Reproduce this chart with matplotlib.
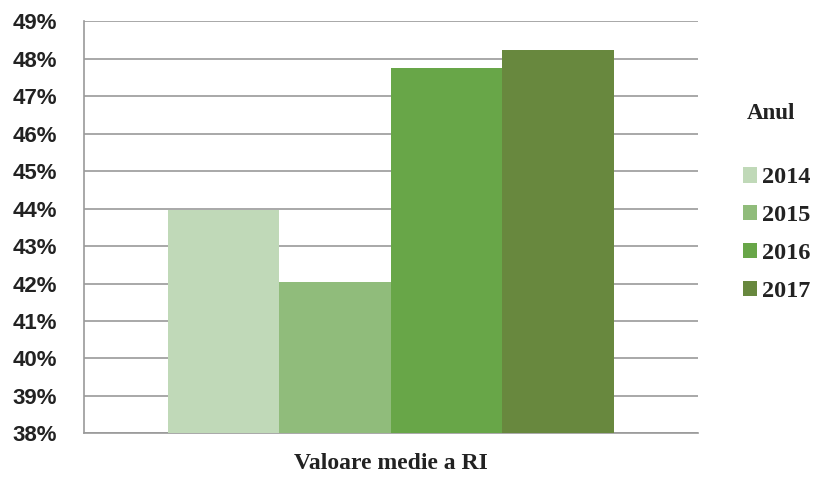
import matplotlib
matplotlib.use('Agg')
import matplotlib.pyplot as plt
from matplotlib.patches import Patch
from matplotlib.ticker import FuncFormatter

# data
years = ['2014', '2015', '2016', '2017']
values = [43.97, 42.05, 47.75, 48.22]
colors = ['#c0d9b8', '#90bc7b', '#68a648', '#68883e']

fig = plt.figure(figsize=(8.16, 4.8), dpi=100)
ax = fig.add_axes([0.103, 0.097, 0.752, 0.859])

ax.bar(range(len(years)), [v - 38 for v in values], bottom=38, width=1.0,
       color=colors, zorder=3)

ax.set_ylim(38, 49)
ax.set_yticks(range(38, 50))
ax.yaxis.set_major_formatter(FuncFormatter(lambda v, p: '{:d}%'.format(int(v))))
ax.set_xlim(-1.253, 4.253)
ax.set_xticks([])
ax.grid(axis='y', color='#9a9a9a', linewidth=1.2, zorder=0)
ax.tick_params(axis='y', length=0, pad=19.5)
for lab in ax.get_yticklabels():
    lab.set_fontfamily('Liberation Sans')
    lab.set_fontweight('bold')
    lab.set_fontsize(16)
    lab.set_color('#222222')

for s in ['top', 'right']:
    ax.spines[s].set_visible(False)
ax.spines['left'].set_color('#9a9a9a')
ax.spines['bottom'].set_color('#9a9a9a')
ax.spines['left'].set_linewidth(1.2)
ax.spines['bottom'].set_linewidth(1.2)

ax.set_xlabel('Valoare medie a RI', fontfamily='Liberation Serif', fontweight='bold',
              fontsize=17, color='#222222', labelpad=14)

# legend
fig.text(0.945, 0.763, 'Anul', fontfamily='Liberation Serif', fontweight='bold',
         fontsize=16.5, color='#222222', ha='center', va='center')
handles = [Patch(facecolor=c, edgecolor='none') for c in colors]
leg = fig.legend(handles, years, loc='upper left', bbox_to_anchor=(0.8955, 0.677),
                 frameon=False, handlelength=0.6, handleheight=0.6, handletextpad=0.2,
                 labelspacing=0.68, borderpad=0,
                 prop={'family': 'Liberation Serif', 'weight': 'bold', 'size': 17.5})
for t in leg.get_texts():
    t.set_color('#222222')

fig.savefig('out.png', dpi=100)
